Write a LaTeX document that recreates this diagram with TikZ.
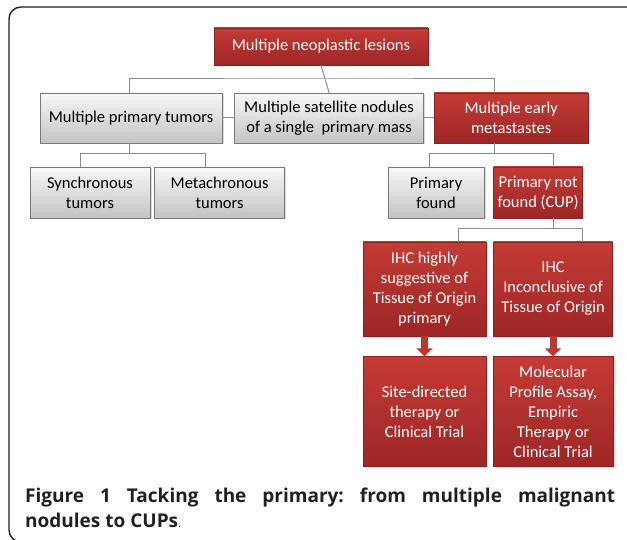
\documentclass[tikz,border=0pt]{standalone}
\usepackage{fontspec}
\setmainfont{Carlito}
\newfontfamily\capfont{Open Sans}
\usetikzlibrary{positioning,calc,arrows.meta,shadows}

\definecolor{redtop}{HTML}{C43B35}
\definecolor{redbot}{HTML}{9E2626}
\definecolor{redline}{HTML}{8E2222}
\definecolor{graytop}{HTML}{F7F7F7}
\definecolor{graybot}{HTML}{C4C4C4}
\definecolor{grayline}{HTML}{7A7A7A}
\definecolor{linkgray}{HTML}{8C8C8C}
\definecolor{framecol}{HTML}{222222}
\definecolor{captext}{HTML}{231F20}

\tikzset{
	box/.style={rectangle, line width=0.6pt, align=center, inner sep=2pt,
		font=\fontsize{16.5}{20}\selectfont,
		drop shadow={opacity=0.3, shadow xshift=1.5pt, shadow yshift=-1.5pt}},
	redbox/.style={box, draw=redline, top color=redtop, bottom color=redbot, text=white},
	graybox/.style={box, draw=grayline, top color=graytop, bottom color=graybot, text=black},
	link/.style={draw=linkgray, line width=1pt},
	blockarrow/.style={draw=redtop!85!redbot, line width=7pt, -{Triangle[width=16pt,length=8pt]}},
}

\begin{document}
\frenchspacing
\begin{tikzpicture}[x=1pt, y=-1pt]
	\useasboundingbox (0,0) rectangle (627,540);
	\draw[framecol, line width=1.4pt, rounded corners=12pt] (9,7) rectangle (660,542);
	%
	\node[redbox, minimum width=214pt, minimum height=37pt] (lesions) at (321,46.5) {Multiple neoplastic lesions};
	\node[graybox, minimum width=182pt, minimum height=50pt] (primtum) at (131,118) {Multiple primary tumors};
	\node[graybox, minimum width=189pt, minimum height=50pt, right=12pt of primtum] (satell) {Multiple satellite nodules\\of a single~ primary mass};
	\node[redbox, minimum width=154pt, minimum height=50pt, right=10pt of satell] (earlymet) {Multiple early\\metastastes};
	\node[graybox, minimum width=120pt, minimum height=51pt] (sync) at (90,192.5) {Synchronous\\tumors};
	\node[graybox, minimum width=130pt, minimum height=51pt, right=4pt of sync] (metachr) {Metachronous\\tumors};
	\node[graybox, minimum width=96pt, minimum height=51pt] (primfound) at (436,192.5) {Primary\\found};
	\node[redbox, minimum width=89pt, minimum height=51pt, right=9pt of primfound] (cup) {Primary not\\found (CUP)};
	\node[redbox, minimum width=123pt, minimum height=94pt] (ihcsugg) at (424.5,289) {IHC highly\\suggestive of\\Tissue of Origin\\primary};
	\node[redbox, minimum width=119pt, minimum height=94pt, right=7pt of ihcsugg] (ihcincl) {IHC\\Inconclusive of\\Tissue of Origin};
	\node[redbox, minimum width=123pt, minimum height=110pt, below=20pt of ihcsugg] (sitether) {Site-directed\\therapy or\\Clinical Trial};
	\node[redbox, minimum width=120pt, minimum height=110pt, below=20pt of ihcincl] (molprof) {Molecular\\Profile Assay,\\Empiric\\Therapy or\\Clinical Trial};
	%
	\coordinate (bar1) at ($(lesions.south)!0.5!(satell.north)$);
	\coordinate (bar2) at ($(primtum.south)+(-2,10)$);
	\coordinate (bar3) at ($(earlymet.south)+(-17,10)$);
	\coordinate (bar4) at ($(cup.south)+(15.5,10)$);
	\draw[link] (lesions.south) -- (satell.north);
	\draw[link] ([xshift=-2pt]primtum.north) |- (bar1) -| ([xshift=-17pt]earlymet.north);
	\draw[link] (primtum) -- (satell);
	\draw[link] (satell) -- (earlymet);
	\draw[link] ([xshift=-2pt]primtum.south) -- (bar2);
	\draw[link] ([xshift=-10pt]sync.north) |- (bar2) -| ([xshift=-14pt]metachr.north);
	\draw[link] ([xshift=-17pt]earlymet.south) -- (bar3);
	\draw[link] ([xshift=-7pt]primfound.north) |- (bar3) -| ([xshift=15.5pt]cup.north);
	\draw[link] ([xshift=15.5pt]cup.south) -- (bar4);
	\draw[link] ([xshift=33.5pt]ihcsugg.north) |- (bar4) -| ([xshift=29.5pt]ihcincl.north);
	\draw[blockarrow] (ihcsugg.south) -- (sitether.north);
	\draw[blockarrow] (ihcincl.south) -- (molprof.north);
	%
	\node[anchor=base west, inner sep=0pt, text width=590pt, align=justify,
		font=\capfont\bfseries\fontsize{19}{25}\selectfont, text=captext] (caption) at (25,502)
		{Figure 1 Tacking the primary: from multiple malignant\linebreak nodules to CUPs{\mdseries\fontsize{12}{25}\selectfont.}};
\end{tikzpicture}
\end{document}
